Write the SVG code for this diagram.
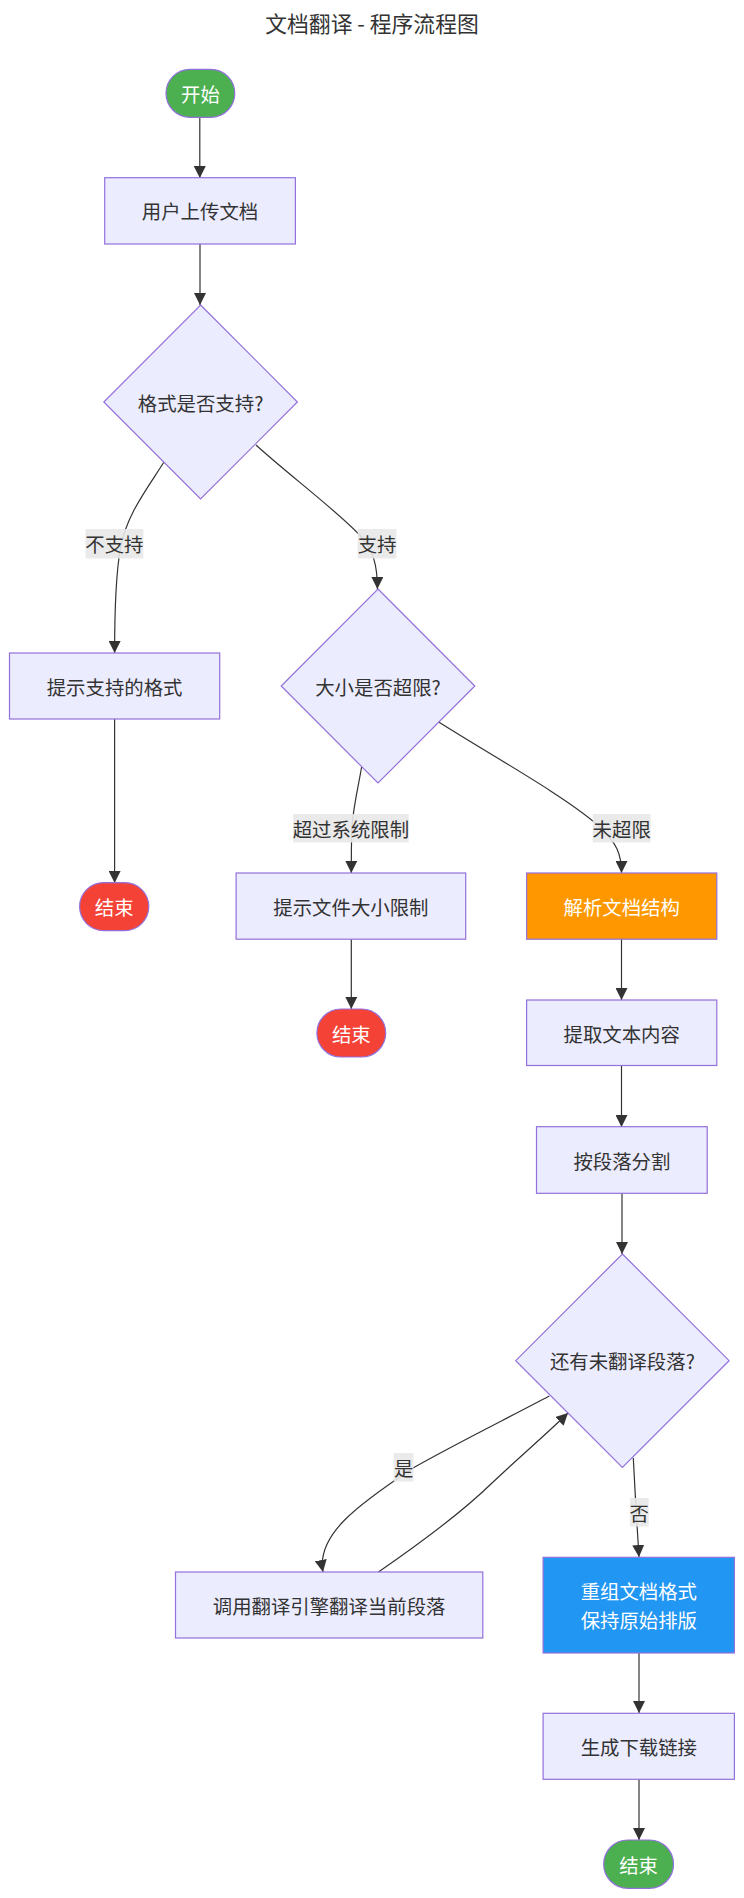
<svg xmlns="http://www.w3.org/2000/svg" width="744" height="1898" viewBox="0 0 744 1898">
<style>
text{font-family:"Noto Sans CJK SC","Liberation Sans",sans-serif;font-size:19.4px;fill:#333;text-anchor:middle;dominant-baseline:central}
.title{font-size:21.8px}
.box{fill:#ECECFF;stroke:#9370DB;stroke-width:1.2}
.w{fill:#fff}
.edge{fill:none;stroke:#333;stroke-width:1.2}
.lbg{fill:#e8e8e8;fill-opacity:0.9}
</style>
<defs>
<marker id="arr" markerUnits="userSpaceOnUse" markerWidth="12" markerHeight="12" viewBox="0 0 12 12" refX="12" refY="6" orient="auto">
<path d="M0,0 L12,6 L0,12 z" fill="#333"/>
</marker>
</defs>
<rect width="744" height="1898" fill="#fff"/>
<text class="title" x="372" y="22">文档翻译 - 程序流程图</text>

<g id="edges">
<path class="edge" marker-end="url(#arr)" d="M199.8,117 L199.8,178"/>
<path class="edge" marker-end="url(#arr)" d="M200,244 L200,305"/>
<path class="edge" marker-end="url(#arr)" d="M164,462 C146.2,490 126.5,515 120.5,548 C115.6,575 114.6,610 114.6,653"/>
<path class="edge" marker-end="url(#arr)" d="M256,445 C286.5,473 336,510 359.6,535 C373.5,550 377.4,565 377.4,589"/>
<path class="edge" marker-end="url(#arr)" d="M114.6,719 L114.6,883"/>
<path class="edge" marker-end="url(#arr)" d="M361.6,767 C357.7,790 352.7,810 351.7,830 C351.3,850 351.3,860 351.3,873"/>
<path class="edge" marker-end="url(#arr)" d="M438.7,722 C494,757 563,795 597.7,825 C617.5,843 621.5,855 621.5,873"/>
<path class="edge" marker-end="url(#arr)" d="M351.3,939 L351.3,1009"/>
<path class="edge" marker-end="url(#arr)" d="M621.5,939 L621.5,1000"/>
<path class="edge" marker-end="url(#arr)" d="M621.5,1066 L621.5,1127"/>
<path class="edge" marker-end="url(#arr)" d="M622,1193 L622,1254"/>
<path class="edge" marker-end="url(#arr)" d="M549.3,1396 C503.9,1420 449.5,1447 413,1468 C357.7,1505 316,1535 323,1572"/>
<path class="edge" marker-end="url(#arr)" d="M378.4,1572 C424.8,1540 462.4,1512 492,1483 C521.7,1455 545.4,1435 568,1413"/>
<path class="edge" marker-end="url(#arr)" d="M633.3,1458 L635.8,1505 L639,1557"/>
<path class="edge" marker-end="url(#arr)" d="M639,1653 L639,1713"/>
<path class="edge" marker-end="url(#arr)" d="M639,1779 L639,1840"/>
</g>

<g id="edge-labels">
<rect class="lbg" x="85.5" y="529" width="57.8" height="29.5"/>
<text x="114.4" y="543.7">不支持</text>
<rect class="lbg" x="357.7" y="529" width="38.8" height="29.5"/>
<text x="377.1" y="543.7">支持</text>
<rect class="lbg" x="293.1" y="814" width="115.6" height="28.5"/>
<text x="350.9" y="828.2">超过系统限制</text>
<rect class="lbg" x="592.8" y="814" width="57.8" height="28.5"/>
<text x="621.7" y="828.2">未超限</text>
<rect class="lbg" x="393.7" y="1453" width="19.8" height="28.5"/>
<text x="403.6" y="1467.2">是</text>
<rect class="lbg" x="629.9" y="1498" width="18.8" height="28.5"/>
<text x="639.3" y="1512.2">否</text>
</g>

<g id="start">
<rect x="166" y="69.3" width="68.8" height="48" rx="24" fill="#4CAF50" stroke="#9370DB" stroke-width="1.2"/>
<text class="w" x="200.4" y="93.3">开始</text>
</g>
<g id="upload">
<rect class="box" x="104.7" y="177.7" width="190.7" height="66.3"/>
<text x="200" y="210.8">用户上传文档</text>
</g>
<g id="fmt">
<polygon class="box" points="200.6,305 297.4,402 200.6,499 103.8,402"/>
<text x="200.6" y="402">格式是否支持?</text>
</g>
<g id="hintfmt">
<rect class="box" x="9.5" y="653" width="210.2" height="66"/>
<text x="114.6" y="686">提示支持的格式</text>
</g>
<g id="end1">
<rect x="79.6" y="882.6" width="69.2" height="48" rx="24" fill="#F44336" stroke="#9370DB" stroke-width="1.2"/>
<text class="w" x="114.2" y="906.6">结束</text>
</g>
<g id="size">
<polygon class="box" points="378,589 474.8,686 378,783 281.2,686"/>
<text x="378" y="686">大小是否超限?</text>
</g>
<g id="hintsize">
<rect class="box" x="236.1" y="873" width="229.6" height="66.2"/>
<text x="350.9" y="906">提示文件大小限制</text>
</g>
<g id="end2">
<rect x="316.9" y="1009" width="68.8" height="48" rx="24" fill="#F44336" stroke="#9370DB" stroke-width="1.2"/>
<text class="w" x="351.3" y="1033">结束</text>
</g>
<g id="parse">
<rect x="526.6" y="873" width="190.2" height="66.2" fill="#FF9800" stroke="#9370DB" stroke-width="1.2"/>
<text class="w" x="621.7" y="906">解析文档结构</text>
</g>
<g id="extract">
<rect class="box" x="526.6" y="1000" width="190.2" height="65.5"/>
<text x="621.7" y="1033">提取文本内容</text>
</g>
<g id="split">
<rect class="box" x="536.5" y="1126.7" width="170.7" height="66.6"/>
<text x="621.9" y="1160">按段落分割</text>
</g>
<g id="more">
<polygon class="box" points="622.4,1254 729.1,1360.7 622.4,1467.3 515.7,1360.7"/>
<text x="622.4" y="1360.7">还有未翻译段落?</text>
</g>
<g id="translate">
<rect class="box" x="175.5" y="1572" width="307.3" height="66"/>
<text x="329.1" y="1605">调用翻译引擎翻译当前段落</text>
</g>
<g id="rebuild">
<rect x="543.1" y="1557.3" width="191.3" height="95.7" fill="#2196F3" stroke="#9370DB" stroke-width="1.2"/>
<text class="w" x="638.8" y="1590.5">重组文档格式</text>
<text class="w" x="638.8" y="1619.5">保持原始排版</text>
</g>
<g id="link">
<rect class="box" x="543.1" y="1713.3" width="191.3" height="66"/>
<text x="638.8" y="1746.3">生成下载链接</text>
</g>
<g id="end3">
<rect x="603.7" y="1840" width="69.8" height="48.3" rx="24" fill="#4CAF50" stroke="#9370DB" stroke-width="1.2"/>
<text class="w" x="638.6" y="1864">结束</text>
</g>
</svg>
